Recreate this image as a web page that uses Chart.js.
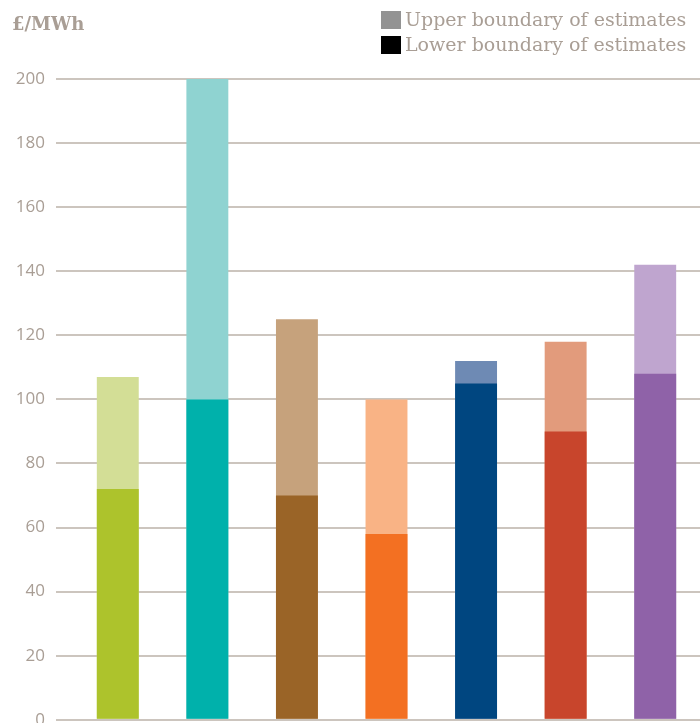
<!DOCTYPE html>
<html>
<head>
<meta charset="utf-8">
<script src="https://cdn.jsdelivr.net/npm/chart.js@4/dist/chart.umd.min.js"></script>
<style>
  html, body { margin: 0; padding: 0; background: #fff; overflow: hidden; }
  #wrap { position: relative; width: 700px; height: 741px; }
</style>
</head>
<body>
<div id="wrap"><canvas id="c"></canvas></div>
<script>
// ---- data ----
const categories = ['1', '2', '3', '4', '5', '6', '7'];
const lowerEstimates = [72, 100, 70, 58, 105, 90, 108];
const upperEstimates = [107, 200, 125, 100, 112, 118, 142];
const yTicks = [0, 20, 40, 60, 80, 100, 120, 140, 160, 180, 200];
const lowerColors = ['#adc32c', '#00b1ab', '#9a6427', '#f37022', '#004680', '#c8452c', '#8f62a8'];
const upperColors = ['#d3de96', '#8fd3d1', '#c6a27c', '#f9b385', '#6e8ab4', '#e29b7c', '#bfa5cf'];
const legendLabels = ['Upper boundary of estimates', 'Lower boundary of estimates'];
const legendColors = ['#939393', '#000000'];
const unitLabel = '£/MWh';

const textColor = '#a99e95';
const serif = '"DejaVu Serif", serif';

const overlayPlugin = {
  id: 'overlay',
  afterDraw(chart) {
    const ctx = chart.ctx;
    ctx.save();
    ctx.fillStyle = textColor;
    ctx.font = '600 18px ' + serif;
    ctx.textBaseline = 'middle';
    ctx.textAlign = 'left';
    ctx.fillText(unitLabel, 12, 25);
    ctx.font = '19px ' + serif;
    legendLabels.forEach((t, i) => {
      const y = 20 + i * 25;
      ctx.fillStyle = legendColors[i];
      ctx.fillRect(381, y - 9, 20, 18);
      ctx.fillStyle = textColor;
      ctx.fillText(t, 405, y + 1);
    });
    ctx.restore();
  }
};

new Chart(document.getElementById('c'), {
  type: 'bar',
  data: {
    labels: categories,
    datasets: [
      { label: legendLabels[1], data: lowerEstimates, backgroundColor: lowerColors,
        grouped: false, barPercentage: 0.468, categoryPercentage: 1, borderWidth: 0 },
      { label: legendLabels[0], data: upperEstimates, backgroundColor: upperColors,
        grouped: false, barPercentage: 0.468, categoryPercentage: 1, borderWidth: 0 }
    ]
  },
  options: {
    responsive: true,
    maintainAspectRatio: false,
    animation: false,
    layout: { padding: { top: 79, right: 0, bottom: 0, left: 0 } },
    plugins: { legend: { display: false }, tooltip: { enabled: false } },
    scales: {
      x: { display: false },
      y: {
        min: 0, max: 200,
        afterBuildTicks(scale) { scale.ticks = yTicks.map(v => ({ value: v })); },
        afterFit(scale) { scale.width = 73; },
        border: { display: false },
        grid: { color: '#ccc5be', lineWidth: 2, tickLength: 17, drawTicks: true },
        ticks: { color: textColor, padding: 11, font: { family: '"Open Sans", sans-serif', size: 17 } }
      }
    }
  },
  plugins: [overlayPlugin]
});
</script>
</body>
</html>
